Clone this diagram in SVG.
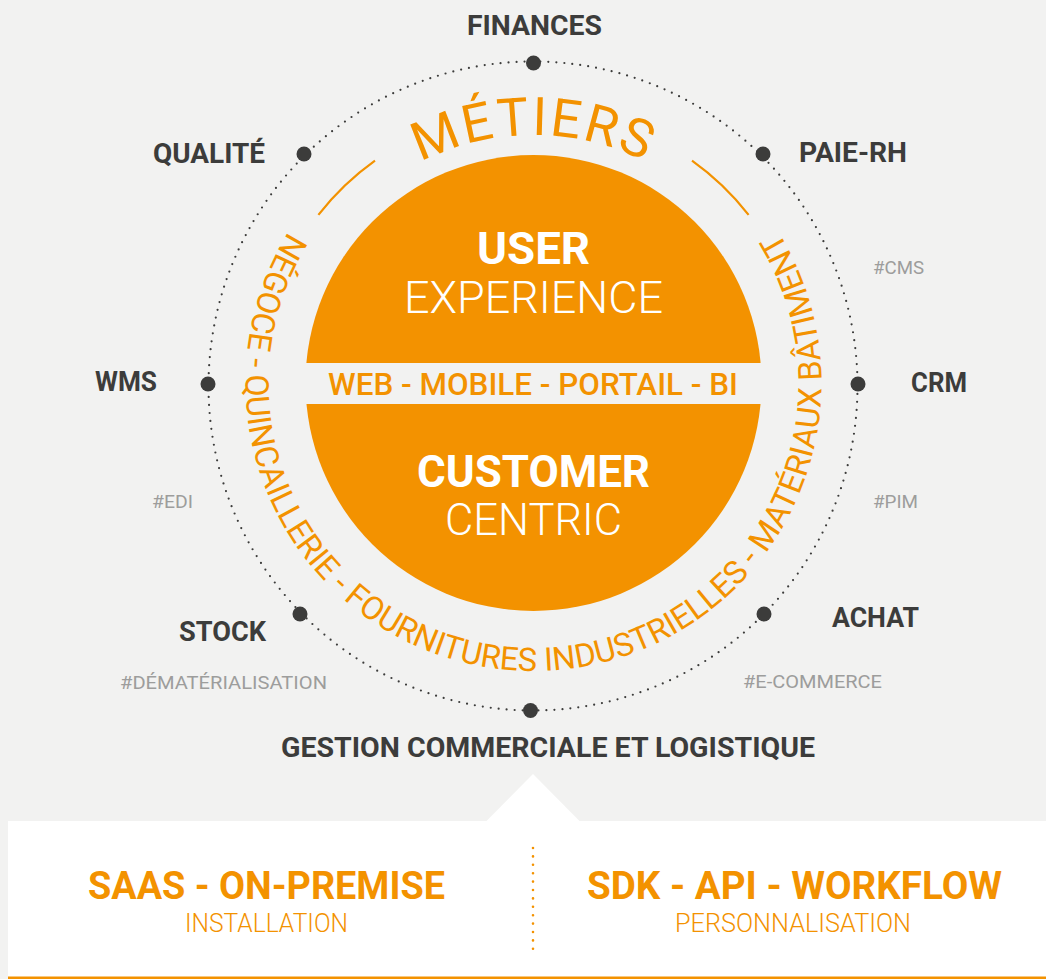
<svg xmlns="http://www.w3.org/2000/svg" xmlns:xlink="http://www.w3.org/1999/xlink" width="1046" height="979" viewBox="0 0 1046 979">
<style>
  text { font-family: Roboto, "Liberation Sans", sans-serif; }
  .lbl { font-size: 28px; font-weight: 700; fill: #3c3c3b; }
  .tag { font-size: 19px; font-weight: 400; fill: #9d9d9c; }
  .dot { fill: #3c3c3b; }
  .ring { fill: none; stroke: #3c3c3b; stroke-width: 2.2; stroke-linecap: round; stroke-dasharray: 0 8; }
  .arcline { fill: none; stroke: #f39200; stroke-width: 2.2; }
  .orange { fill: #f39200; }
  .white { fill: #ffffff; }
  .big { font-size: 45px; }
  .b { font-weight: 700; }
  .l { font-weight: 300; }
  .m { font-weight: 500; }
</style>
<defs>
  <path id="pathMetiers" d="M 533.5 631 A 248 248 0 1 1 533.5 135 A 248 248 0 1 1 533.5 631"/>
  <path id="pathSectors" d="M 533.5 95 A 288 288 0 1 0 533.5 671 A 288 288 0 1 0 533.5 95"/>
</defs>
<rect x="0" y="0" width="1046" height="979" fill="#f2f2f1"/>

<g id="connectors">
  <circle class="ring" cx="533" cy="386" r="324.5"/>
  <path class="arcline" d="M 318.4 214.9 A 273 273 0 0 1 375 160.7"/>
  <path class="arcline" d="M 692 160.7 A 273 273 0 0 1 748.6 214.9"/>
</g>

<g id="core">
  <circle class="orange" cx="533.5" cy="383" r="228"/>
  <rect x="300" y="363" width="470" height="41" fill="#f2f2f1"/>
  <text class="white big b" x="477" y="264" textLength="113" lengthAdjust="spacingAndGlyphs">USER</text>
  <text class="white big l" x="404" y="313" textLength="259" lengthAdjust="spacingAndGlyphs">EXPERIENCE</text>
  <text class="orange m" style="font-size:31px" x="328" y="395" textLength="410" lengthAdjust="spacingAndGlyphs">WEB - MOBILE - PORTAIL - BI</text>
  <text class="white big b" x="417" y="487" textLength="233" lengthAdjust="spacingAndGlyphs">CUSTOMER</text>
  <text class="white big l" x="445" y="535" textLength="177" lengthAdjust="spacingAndGlyphs">CENTRIC</text>
</g>

<g id="metiers">
  <text class="orange" style="font-size:53px;font-weight:400" letter-spacing="2.5"><textPath xlink:href="#pathMetiers" href="#pathMetiers" startOffset="50%" text-anchor="middle">MÉTIERS</textPath></text>
</g>

<g id="sectors">
  <text class="orange" style="font-size:32.5px;font-weight:400" letter-spacing="0"><textPath xlink:href="#pathSectors" href="#pathSectors" startOffset="50%" text-anchor="middle">NÉGOCE - QUINCAILLERIE - FOURNITURES INDUSTRIELLES - MATÉRIAUX BÂTIMENT</textPath></text>
</g>

<g id="node-finances"><circle class="dot" cx="533.5" cy="63" r="7.5"/><text class="lbl" x="467" y="34.5" textLength="135" lengthAdjust="spacingAndGlyphs">FINANCES</text></g>
<g id="node-paie"><circle class="dot" cx="763" cy="154" r="7.5"/><text class="lbl" x="799" y="162" textLength="108" lengthAdjust="spacingAndGlyphs">PAIE-RH</text></g>
<g id="node-crm"><circle class="dot" cx="858" cy="384" r="7.5"/><text class="lbl" x="911" y="392" textLength="56" lengthAdjust="spacingAndGlyphs">CRM</text></g>
<g id="node-achat"><circle class="dot" cx="764" cy="614" r="7.5"/><text class="lbl" x="832" y="627" textLength="87" lengthAdjust="spacingAndGlyphs">ACHAT</text></g>
<g id="node-gestion"><circle class="dot" cx="530.5" cy="710.5" r="7.5"/><text class="lbl" x="281" y="757" textLength="534" lengthAdjust="spacingAndGlyphs">GESTION COMMERCIALE ET LOGISTIQUE</text></g>
<g id="node-stock"><circle class="dot" cx="300" cy="614" r="7.5"/><text class="lbl" x="179" y="641" textLength="87" lengthAdjust="spacingAndGlyphs">STOCK</text></g>
<g id="node-wms"><circle class="dot" cx="208" cy="384" r="7.5"/><text class="lbl" x="95" y="391" textLength="62" lengthAdjust="spacingAndGlyphs">WMS</text></g>
<g id="node-qualite"><circle class="dot" cx="304" cy="154" r="7.5"/><text class="lbl" x="153" y="163" textLength="112" lengthAdjust="spacingAndGlyphs">QUALITÉ</text></g>

<g id="tags">
  <text class="tag" x="873" y="274" textLength="51" lengthAdjust="spacingAndGlyphs">#CMS</text>
  <text class="tag" x="152" y="508" textLength="41" lengthAdjust="spacingAndGlyphs">#EDI</text>
  <text class="tag" x="873" y="508" textLength="45" lengthAdjust="spacingAndGlyphs">#PIM</text>
  <text class="tag" x="120" y="689" textLength="207" lengthAdjust="spacingAndGlyphs">#DÉMATÉRIALISATION</text>
  <text class="tag" x="743" y="688" textLength="139" lengthAdjust="spacingAndGlyphs">#E-COMMERCE</text>
</g>

<g id="panel">
  <rect x="8" y="821" width="1038" height="156" fill="#ffffff"/>
  <polygon points="533,774 486,821.5 580,821.5" fill="#ffffff"/>
  <rect x="8" y="976.5" width="1038" height="2.5" fill="#f39200"/>
  <line x1="533" y1="848" x2="533" y2="950" stroke="#f39200" stroke-width="2.6" stroke-linecap="round" stroke-dasharray="0 8.4"/>
  <text class="orange b" style="font-size:38px" x="88" y="899" textLength="357" lengthAdjust="spacingAndGlyphs">SAAS - ON-PREMISE</text>
  <text class="orange l" style="font-size:25px" x="185" y="932" textLength="163" lengthAdjust="spacingAndGlyphs">INSTALLATION</text>
  <text class="orange b" style="font-size:38px" x="587" y="899" textLength="415" lengthAdjust="spacingAndGlyphs">SDK - API - WORKFLOW</text>
  <text class="orange l" style="font-size:25px" x="675" y="932" textLength="236" lengthAdjust="spacingAndGlyphs">PERSONNALISATION</text>
</g>
</svg>
